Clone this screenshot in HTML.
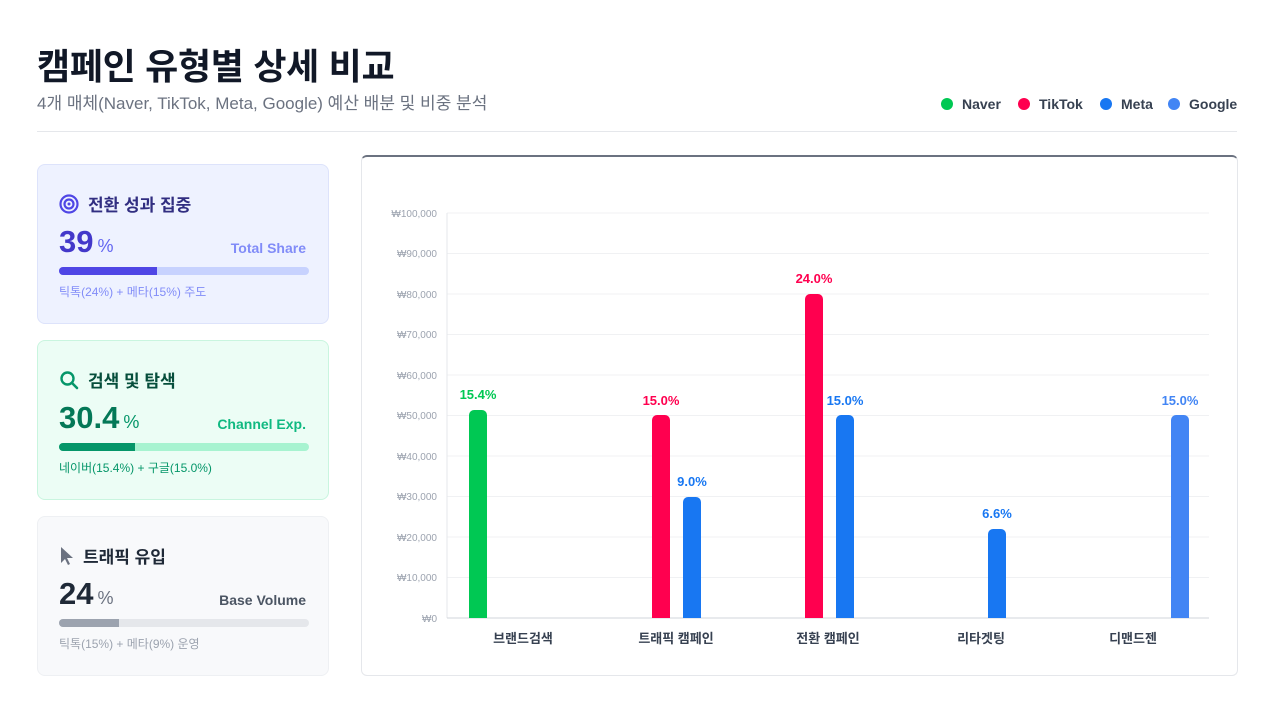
<!DOCTYPE html>
<html><head><meta charset="utf-8"><style>
*{margin:0;padding:0;box-sizing:border-box}
body{width:1273px;height:712px;background:#fff;font-family:"Liberation Sans","Noto Sans CJK KR",sans-serif;position:relative;overflow:hidden;color:#1f2937}
.a{position:absolute}
h1{position:absolute;left:37px;top:38px;font-size:36px;font-weight:700;color:#111827;letter-spacing:-0.3px}
.sub{left:37px;top:89px;font-size:17px;color:#6b7280}
.leg{top:96px;font-size:14px;font-weight:700;color:#374151;display:flex;align-items:center}
.leg i{display:inline-block;width:12px;height:12px;border-radius:50%;margin-right:9px}
.card{position:absolute;left:37px;width:292px;border-radius:8px}
.ct{position:absolute;left:21px;top:26px;font-size:17px;font-weight:700;display:flex;align-items:center}
.big{position:absolute;left:21px;top:59px;font-size:31px;font-weight:700}
.big span{font-size:18px;font-weight:400;margin-left:4px}
.rt{position:absolute;right:22px;top:75px;font-size:14px;font-weight:700}
.bar{position:absolute;left:21px;top:102px;width:250px;height:8px;border-radius:4px}
.bar b{display:block;height:8px;border-radius:4px 0 0 4px}
.note{position:absolute;left:21px;top:118px;font-size:12px}
</style></head><body>
<h1>캠페인 유형별 상세 비교</h1>
<div class="a sub">4개 매체(Naver, TikTok, Meta, Google) 예산 배분 및 비중 분석</div>
<div class="a leg" style="left:941px"><i style="background:#00c853"></i>Naver</div>
<div class="a leg" style="left:1018px"><i style="background:#ff004f"></i>TikTok</div>
<div class="a leg" style="left:1100px"><i style="background:#1877f2"></i>Meta</div>
<div class="a leg" style="left:1168px"><i style="background:#4285f4"></i>Google</div>
<div class="a" style="left:37px;top:131px;width:1200px;height:1px;background:#e5e7eb"></div>

<div class="card" style="top:164px;height:160px;background:#eef2ff;border:1px solid #dde3fb">
 <div class="ct" style="color:#312e81"><svg width="20" height="20" viewBox="0 0 20 20" style="margin-right:9px"><circle cx="10" cy="10" r="8.5" fill="none" stroke="#4f46e5" stroke-width="2.2"/><circle cx="10" cy="10" r="4.5" fill="none" stroke="#4f46e5" stroke-width="2.2"/><circle cx="10" cy="10" r="1.5" fill="#4f46e5"/></svg>전환 성과 집중</div>
 <div class="big" style="color:#4338ca">39<span style="color:#6366f1">%</span></div>
 <div class="rt" style="color:#818cf8">Total Share</div>
 <div class="bar" style="background:#c7d2fe"><b style="width:98px;background:#4f46e5"></b></div>
 <div class="note" style="color:#818cf8">틱톡(24%) + 메타(15%) 주도</div>
</div>
<div class="card" style="top:340px;height:160px;background:#ecfdf5;border:1px solid #c9f5df">
 <div class="ct" style="color:#064e3b"><svg width="20" height="20" viewBox="0 0 20 20" style="margin-right:9px"><circle cx="8.5" cy="8.5" r="6" fill="none" stroke="#059669" stroke-width="2.4"/><line x1="13" y1="13" x2="18" y2="18" stroke="#059669" stroke-width="2.6" stroke-linecap="round"/></svg>검색 및 탐색</div>
 <div class="big" style="color:#047857">30.4<span style="color:#059669">%</span></div>
 <div class="rt" style="color:#10b981">Channel Exp.</div>
 <div class="bar" style="background:#a7f3d0"><b style="width:76px;background:#059669"></b></div>
 <div class="note" style="color:#059669">네이버(15.4%) + 구글(15.0%)</div>
</div>
<div class="card" style="top:516px;height:160px;background:#f8f9fb;border:1px solid #eef0f3">
 <div class="ct" style="color:#1f2937"><svg width="16" height="20" viewBox="0 0 16 20" style="margin-right:8px"><path d="M2 1 L2 17 L6 13 L9 19 L11 18 L8 12 L14 12 Z" fill="#6b7280"/></svg>트래픽 유입</div>
 <div class="big" style="color:#1f2937">24<span style="color:#6b7280">%</span></div>
 <div class="rt" style="color:#4b5563">Base Volume</div>
 <div class="bar" style="background:#e5e7eb"><b style="width:60px;background:#9ca3af"></b></div>
 <div class="note" style="color:#9ca3af">틱톡(15%) + 메타(9%) 운영</div>
</div>

<div class="a" style="left:361px;top:155px;width:877px;height:521px;border:1px solid #e5e7eb;border-top:2px solid #6b7280;border-radius:6px"></div>
<svg class="a" style="left:0;top:0" width="1273" height="712" font-family="Liberation Sans, Noto Sans CJK KR, sans-serif">
<g stroke="#f0f1f3" stroke-width="1">
<line x1="447" x2="1209" y1="213" y2="213"/><line x1="447" x2="1209" y1="253.5" y2="253.5"/><line x1="447" x2="1209" y1="294" y2="294"/><line x1="447" x2="1209" y1="334.5" y2="334.5"/><line x1="447" x2="1209" y1="375" y2="375"/><line x1="447" x2="1209" y1="415.5" y2="415.5"/><line x1="447" x2="1209" y1="456" y2="456"/><line x1="447" x2="1209" y1="496.5" y2="496.5"/><line x1="447" x2="1209" y1="537" y2="537"/><line x1="447" x2="1209" y1="577.5" y2="577.5"/>
</g>
<line x1="447" x2="447" y1="213" y2="618" stroke="#e5e7eb"/>
<line x1="447" x2="1209" y1="618" y2="618" stroke="#d1d5db"/>
<g font-size="10" fill="#9ca3af" text-anchor="end">
<text x="437" y="217">₩100,000</text><text x="437" y="257">₩90,000</text><text x="437" y="298">₩80,000</text><text x="437" y="338">₩70,000</text><text x="437" y="379">₩60,000</text><text x="437" y="419">₩50,000</text><text x="437" y="460">₩40,000</text><text x="437" y="500">₩30,000</text><text x="437" y="541">₩20,000</text><text x="437" y="581">₩10,000</text><text x="437" y="622">₩0</text>
</g>
<g>
<path d="M469 618V415a5 5 0 0 1 5-5h8a5 5 0 0 1 5 5V618Z" fill="#00c853"/>
<path d="M652 618V420a5 5 0 0 1 5-5h8a5 5 0 0 1 5 5V618Z" fill="#ff004f"/>
<path d="M683 618V502a5 5 0 0 1 5-5h8a5 5 0 0 1 5 5V618Z" fill="#1877f2"/>
<path d="M805 618V299a5 5 0 0 1 5-5h8a5 5 0 0 1 5 5V618Z" fill="#ff004f"/>
<path d="M836 618V420a5 5 0 0 1 5-5h8a5 5 0 0 1 5 5V618Z" fill="#1877f2"/>
<path d="M988 618V534a5 5 0 0 1 5-5h8a5 5 0 0 1 5 5V618Z" fill="#1877f2"/>
<path d="M1171 618V420a5 5 0 0 1 5-5h8a5 5 0 0 1 5 5V618Z" fill="#4285f4"/>
</g>
<g font-size="13" font-weight="700" text-anchor="middle">
<text x="478" y="399" fill="#00c853">15.4%</text>
<text x="661" y="405" fill="#ff004f">15.0%</text>
<text x="692" y="486" fill="#1877f2">9.0%</text>
<text x="814" y="283" fill="#ff004f">24.0%</text>
<text x="845" y="405" fill="#1877f2">15.0%</text>
<text x="997" y="518" fill="#1877f2">6.6%</text>
<text x="1180" y="405" fill="#4285f4">15.0%</text>
</g>
<g font-size="13" font-weight="700" fill="#374151" text-anchor="middle">
<text x="523" y="643">브랜드검색</text><text x="676" y="643">트래픽 캠페인</text><text x="828" y="643">전환 캠페인</text><text x="981" y="643">리타겟팅</text><text x="1133" y="643">디맨드젠</text>
</g>
</svg>
</body></html>
